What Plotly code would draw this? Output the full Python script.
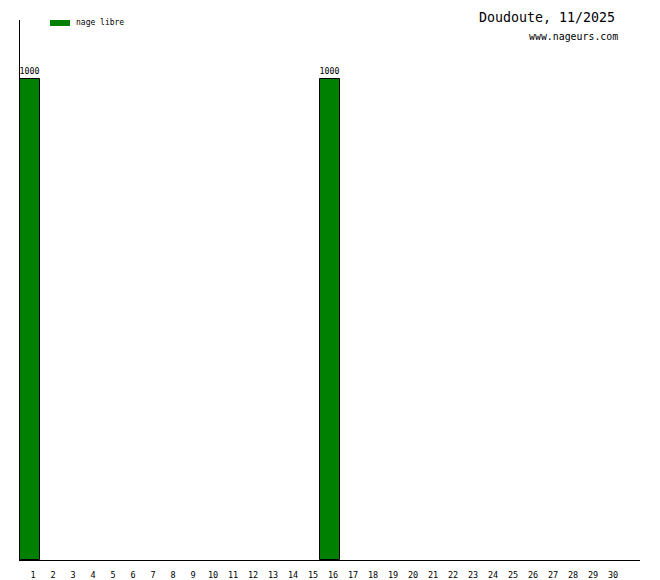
import plotly.graph_objects as go

days = list(range(1, 31))
values = [1000 if d in (1, 16) else 0 for d in days]
series_name = "nage libre"
title_text = "Doudoute, 11/2025"
site_text = "www.nageurs.com"

bar_x = [d for d, v in zip(days, values) if v > 0]
bar_y = [v for v in values if v > 0]

fig = go.Figure()
fig.add_trace(go.Bar(
    x=bar_x, y=bar_y, width=1.0,
    marker=dict(color="#008000", line=dict(color="black", width=1)),
    text=[str(v) for v in bar_y], textposition="outside",
    textfont=dict(family="DejaVu Sans Mono", size=8.5, color="black"),
    cliponaxis=False, name=series_name, showlegend=False,
))

# page body has 8px margin: plot area should land at page x 20..640, y 20..560
fig.update_layout(
    template="none",
    width=652, height=572,
    margin=dict(l=12, r=20, t=12, b=20),
    paper_bgcolor="white", plot_bgcolor="white",
    xaxis=dict(range=[0.5, 31.5], tickmode="array", tickvals=days,
               ticktext=[str(d) for d in days], automargin=False,
               showline=True, linecolor="black", linewidth=1,
               showgrid=False, zeroline=False, ticks="",
               tickfont=dict(family="DejaVu Sans Mono", size=8.5, color="black"),
               ticklabelstandoff=7, ticklabelshift=3),
    yaxis=dict(range=[0, 1122.6], showline=True, linecolor="black", linewidth=1,
               showgrid=False, zeroline=False, showticklabels=False, ticks="",
               automargin=False),
    bargap=0,
)

fig.update_layout(
    shapes=[dict(type="rect", xref="paper", yref="paper",
                 x0=30/620, x1=50/620, y0=(560-26)/540, y1=(560-20)/540,
                 fillcolor="#008000", line=dict(width=0))],
    annotations=[
        dict(text=series_name, xref="paper", yref="paper", x=54/620, y=(560-22.5)/540,
             xanchor="left", yanchor="middle", showarrow=False,
             font=dict(family="DejaVu Sans Mono", size=8, color="black")),
        dict(text=title_text, xref="paper", yref="paper", x=597/620, y=(560-18)/540,
             xanchor="right", yanchor="middle", showarrow=False,
             font=dict(family="DejaVu Sans Mono", size=13.3, color="black")),
        dict(text=site_text, xref="paper", yref="paper", x=600/620, y=(560-37)/540,
             xanchor="right", yanchor="middle", showarrow=False,
             font=dict(family="DejaVu Sans Mono", size=9.9, color="black")),
    ],
)

fig.write_html("out.html")
